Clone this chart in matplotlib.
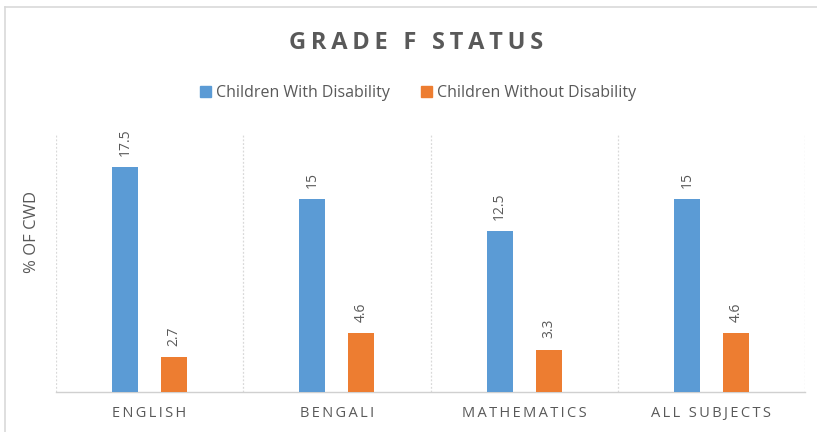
"""
Grade F status: children with vs without disability, by subject.
"""
import numpy as np
import matplotlib
matplotlib.use("Agg")
import matplotlib.pyplot as plt
from matplotlib.lines import Line2D
from matplotlib.patches import Patch

subjects = ["ENGLISH", "BENGALI", "MATHEMATICS", "ALL SUBJECTS"]
with_disability = [17.5, 15, 12.5, 15]
without_disability = [2.7, 4.6, 3.3, 4.6]
series_names = ["Children With Disability", "Children Without Disability"]

BLUE = "#5B9BD5"
ORANGE = "#ED7D31"
TEXT = "#595959"
GRID = "#D9D9D9"

plt.rcParams["font.family"] = ["Open Sans", "DejaVu Sans"]


def spaced(s, sep="\u2009"):
    return sep.join(s)


fig = plt.figure(figsize=(8.17, 4.32), dpi=100)
ax = fig.add_axes([56 / 817, 1 - 392 / 432, (805 - 56) / 817, (392 - 135) / 432])

x = np.arange(len(subjects))
width = 0.139
offset = 0.131
b1 = ax.bar(x - offset, with_disability, width, color=BLUE, label=series_names[0], zorder=3)
b2 = ax.bar(x + offset, without_disability, width, color=ORANGE, label=series_names[1], zorder=3)

for bars, vals in ((b1, with_disability), (b2, without_disability)):
    for rect, v in zip(bars, vals):
        ax.annotate(f"{v:g}", (rect.get_x() + rect.get_width() / 2, v),
                    xytext=(0, 8), textcoords="offset points",
                    rotation=90, ha="center", va="bottom",
                    fontsize=10, color=TEXT)

ax.set_xlim(-0.5, len(subjects) - 0.5)
ax.set_ylim(0, 20)
ax.set_yticks([])
ax.set_xticks(x)
ax.set_xticklabels([spaced(s) for s in subjects], fontsize=10.5, color=TEXT)
ax.tick_params(axis="x", length=0, pad=10)

for b in np.arange(-0.5, len(subjects), 1.0):
    ax.axvline(b, color=GRID, linestyle=(0, (1.5, 1.5)), linewidth=0.9, zorder=1)

for side in ("top", "right", "left"):
    ax.spines[side].set_visible(False)
ax.spines["bottom"].set_color("#D0D0D0")
ax.spines["bottom"].set_linewidth(1.0)

fig.text(32 / 817, 1 - 232 / 432, "% OF CWD", rotation=90, ha="center", va="center",
         fontsize=12, color=TEXT)

fig.text(416 / 817, 1 - 43 / 432, spaced("GRADE F STATUS"), ha="center", va="center",
         fontsize=17, fontweight="bold", color=TEXT)

handles = [Patch(color=BLUE), Patch(color=ORANGE)]
fig.legend(handles, series_names, loc="center", bbox_to_anchor=(418 / 817, 1 - 93 / 432),
           ncol=2, frameon=False, fontsize=11.5, labelcolor=TEXT,
           handlelength=0.65, handleheight=0.65, handletextpad=0.3, columnspacing=2.0)

# chart border (only top and left edges visible in the crop)
fig.add_artist(Line2D([5 / 817, 1], [1 - 7 / 432] * 2, color="#D9D9D9", linewidth=1.2))
fig.add_artist(Line2D([5 / 817] * 2, [0, 1 - 7 / 432], color="#D9D9D9", linewidth=1.2))

fig.savefig("out.png", dpi=100, facecolor="white")
